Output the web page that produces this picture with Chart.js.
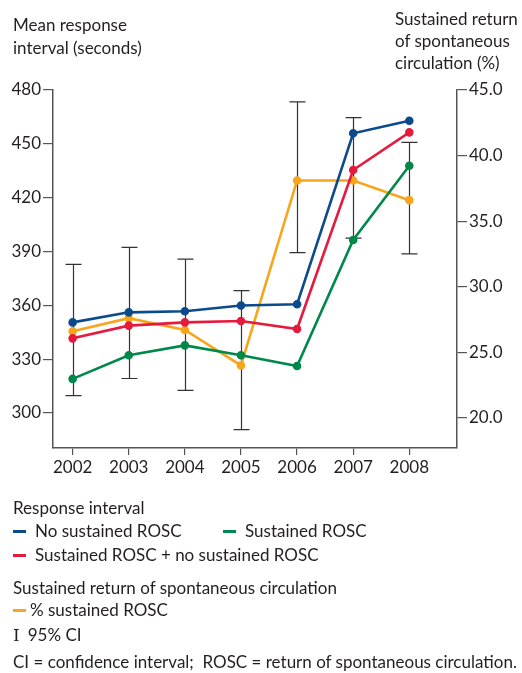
<!DOCTYPE html>
<html>
<head>
<meta charset="utf-8">
<script src="https://cdn.jsdelivr.net/npm/chart.js@4"></script>
<style>
    body { margin: 0; background: #fff; font-family: Lato, sans-serif; color: #231f20; }
    #wrap { position: relative; width: 522px; height: 673px; }
    canvas { position: absolute; left: 0; top: 0; }
    .txt { position: absolute; font-size: 17px; line-height: 22px; white-space: nowrap; }
    .sw { display: inline-block; width: 13px; height: 2.5px; vertical-align: middle; margin-right: 9px; position: relative; top: -1px; }
</style>
</head>
<body>
<div id="wrap">
    <canvas id="chart" width="522" height="673"></canvas>
    <div class="txt" style="left:13px;top:13px;line-height:23px;">Mean response<br>interval (seconds)</div>
    <div class="txt" style="left:395px;top:8px;">Sustained return<br>of spontaneous<br>circulation (%)</div>

    <div class="txt" style="left:13px;top:497px;">Response interval</div>
    <div class="txt" style="left:13px;top:520px;"><span class="sw" style="background:#0b4a8c"></span>No sustained ROSC</div>
    <div class="txt" style="left:223px;top:520px;"><span class="sw" style="background:#00884a"></span>Sustained ROSC</div>
    <div class="txt" style="left:13px;top:544px;"><span class="sw" style="background:#e41b3d"></span>Sustained ROSC + no sustained ROSC</div>
    <div class="txt" style="left:13px;top:577px;">Sustained return of spontaneous circulation</div>
    <div class="txt" style="left:13px;top:599px;"><span class="sw" style="background:#f8a51b;margin-right:4px"></span>% sustained ROSC</div>
    <div class="txt" style="left:13px;top:624px;"><span style="font-family:'DejaVu Serif';font-weight:300;margin-right:8px;">I</span>95% CI</div>
    <div class="txt" style="left:13px;top:651px;">CI = confidence interval;&nbsp; ROSC = return of spontaneous circulation.</div>
</div>
<script>
const years = [2002, 2003, 2004, 2005, 2006, 2007, 2008];
const noSustained = [350.5, 356.1, 356.7, 359.9, 360.6, 455.9, 462.9];
const combined = [341.6, 348.7, 350.5, 351.3, 346.8, 435.4, 456.4];
const sustained = [319.0, 332.2, 337.7, 332.2, 326.2, 396.4, 437.8];
const pctSustained = [26.6, 27.6, 26.7, 24.0, 38.1, 38.1, 36.6];
const ciLow = [21.7, 23.0, 22.1, 19.1, 32.6, 33.7, 32.5];
const ciHigh = [31.7, 33.0, 32.1, 29.7, 44.1, 42.9, 41.0];
const leftTicks = [300, 330, 360, 390, 420, 450, 480];
const rightTicks = [20, 25, 30, 35, 40, 45];

const axisColor = '#555';
const textColor = '#231f20';
const tickFont = { family: 'Lato', size: 17 };

function series(values, color, axis) {
    return {
        data: years.map((y, i) => ({ x: y, y: values[i] })),
        borderColor: color,
        backgroundColor: color,
        borderWidth: 2.6,
        pointRadius: 3,
        pointHoverRadius: 3,
        yAxisID: axis,
        tension: 0
    };
}

const errorBars = {
    id: 'errorBars',
    beforeDatasetsDraw(chart) {
        const ctx = chart.ctx;
        const xs = chart.scales.x;
        const ys = chart.scales.yRight;
        ctx.save();
        ctx.strokeStyle = '#333';
        ctx.lineWidth = 1.2;
        years.forEach((yr, i) => {
            const x = Math.round(xs.getPixelForValue(yr)) + 0.5;
            const top = ys.getPixelForValue(ciHigh[i]);
            const bot = ys.getPixelForValue(ciLow[i]);
            ctx.beginPath();
            ctx.moveTo(x, top);
            ctx.lineTo(x, bot);
            ctx.moveTo(x - 8, top);
            ctx.lineTo(x + 8, top);
            ctx.moveTo(x - 8, bot);
            ctx.lineTo(x + 8, bot);
            ctx.stroke();
        });
        ctx.restore();
    }
};

new Chart(document.getElementById('chart'), {
    type: 'line',
    data: {
        datasets: [
            series(sustained, '#00884a', 'yLeft'),
            series(combined, '#e41b3d', 'yLeft'),
            series(noSustained, '#0b4a8c', 'yLeft'),
            series(pctSustained, '#f8a51b', 'yRight')
        ]
    },
    options: {
        responsive: false,
        animation: false,
        layout: { padding: { left: 0, top: 90, right: 0, bottom: 195 } },
        plugins: { legend: { display: false }, tooltip: { enabled: false } },
        scales: {
            x: {
                type: 'linear',
                min: 2001.65,
                max: 2008.85,
                afterBuildTicks: s => { s.ticks = years.map(v => ({ value: v })); },
                afterFit: s => { s.height = 30; },
                ticks: { color: textColor, font: tickFont, padding: 2, callback: v => String(v) },
                grid: { drawOnChartArea: false, color: axisColor, tickLength: 7, lineWidth: 1.2 },
                border: { color: axisColor, width: 1.5 }
            },
            yLeft: {
                position: 'left',
                min: 280.5,
                max: 480,
                afterBuildTicks: s => { s.ticks = leftTicks.map(v => ({ value: v })); },
                afterFit: s => { s.width = 53; },
                ticks: { color: textColor, font: tickFont, padding: 2 },
                grid: { drawOnChartArea: false, color: axisColor, tickLength: 10, lineWidth: 1.2 },
                border: { color: axisColor, width: 1.5 }
            },
            yRight: {
                position: 'right',
                min: 17.7,
                max: 45,
                afterBuildTicks: s => { s.ticks = rightTicks.map(v => ({ value: v })); },
                afterFit: s => { s.width = 65; },
                ticks: { color: textColor, font: tickFont, padding: 2, callback: v => v.toFixed(1) },
                grid: { drawOnChartArea: false, color: axisColor, tickLength: 10, lineWidth: 1.2 },
                border: { color: axisColor, width: 1.5 }
            }
        }
    },
    plugins: [errorBars]
});
</script>
</body>
</html>
